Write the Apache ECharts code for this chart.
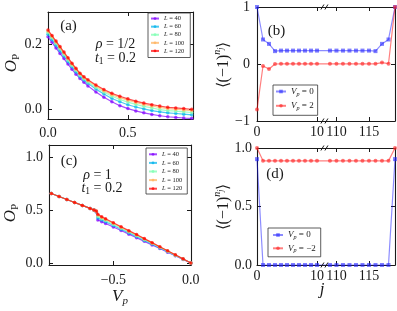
<!DOCTYPE html>
<html><head><meta charset="utf-8">
<script src="https://cdn.jsdelivr.net/npm/echarts@6/dist/echarts.min.js"></script>
<style>html,body{margin:0;padding:0;background:#fff}#c{width:397px;height:311px}</style>
</head><body><div id="c"></div>
<script>
// ---------- data ----------
// panel (a): O_P vs V_p, rho = 1/2
const aX = [0,0.025,0.05,0.075,0.1,0.125,0.15,0.175,0.2,0.225,0.25,0.3,0.35,0.4,0.45,0.5,0.55,0.6,0.65,0.7,0.75,0.8,0.85,0.9];
const aL40  = [0.222,0.205,0.188,0.171,0.155,0.138,0.122,0.107,0.094,0.082,0.071,0.052,0.036,0.022,0.010,0.001,-0.006,-0.012,-0.017,-0.021,-0.024,-0.026,-0.028,-0.029];
const aL60  = [0.230,0.213,0.196,0.179,0.163,0.146,0.130,0.114,0.100,0.089,0.079,0.061,0.046,0.032,0.022,0.013,0.006,0.000,-0.005,-0.009,-0.012,-0.014,-0.016,-0.018];
const aL80  = [0.236,0.219,0.202,0.185,0.168,0.151,0.134,0.119,0.104,0.093,0.083,0.066,0.052,0.039,0.029,0.021,0.014,0.008,0.003,-0.002,-0.005,-0.007,-0.009,-0.011];
const aL100 = [0.240,0.223,0.206,0.189,0.172,0.155,0.138,0.122,0.108,0.096,0.087,0.071,0.056,0.044,0.035,0.027,0.020,0.014,0.009,0.005,0.001,-0.001,-0.003,-0.005];
const aL120 = [0.243,0.226,0.209,0.192,0.175,0.158,0.141,0.125,0.110,0.099,0.090,0.074,0.060,0.048,0.039,0.031,0.024,0.018,0.013,0.009,0.005,0.003,0.001,-0.001];
// panel (c): O_P vs V_p, rho = 1
const cX = [-0.9,-0.85,-0.8,-0.75,-0.7,-0.65,-0.625,-0.61,-0.6,-0.575,-0.55,-0.5,-0.45,-0.4,-0.35,-0.3,-0.25,-0.2,-0.15,-0.1,-0.05,0];
const cL40  = [0.655,0.627,0.599,0.571,0.543,0.515,0.500,0.480,0.405,0.390,0.373,0.340,0.306,0.272,0.238,0.204,0.170,0.136,0.102,0.068,0.034,0.000];
const cL60  = [0.655,0.627,0.599,0.571,0.543,0.515,0.500,0.484,0.424,0.406,0.389,0.354,0.319,0.284,0.249,0.213,0.178,0.142,0.107,0.071,0.036,0.000];
const cL80  = [0.655,0.627,0.599,0.571,0.543,0.515,0.500,0.486,0.438,0.418,0.400,0.364,0.328,0.292,0.256,0.220,0.183,0.147,0.110,0.073,0.037,0.000];
const cL100 = [0.655,0.627,0.599,0.571,0.543,0.515,0.500,0.489,0.452,0.430,0.411,0.374,0.337,0.300,0.264,0.226,0.189,0.151,0.114,0.075,0.038,0.000];
const cL120 = [0.655,0.627,0.599,0.571,0.543,0.515,0.500,0.490,0.460,0.437,0.418,0.380,0.342,0.305,0.268,0.230,0.192,0.154,0.116,0.077,0.039,0.000];
const Ls = ['40','60','80','100','120'];
// panels (b),(d): <(-1)^{n_j}> vs site j (broken axis)
const J = [0,1,2,3,4,5,6,7,8,9,10,109,110,111,112,113,114,115,116,117,118,119];
const bV0  = [1.0,0.43,0.353,0.226,0.235,0.235,0.235,0.235,0.235,0.235,0.235,0.235,0.235,0.235,0.235,0.235,0.235,0.235,0.226,0.353,0.43,1.0];
const bV2  = [-0.8,-0.035,-0.088,0.0,0.003,0.003,0.003,0.003,0.003,0.003,0.003,0.003,0.003,0.003,0.003,0.003,0.003,0.003,0.003,0.025,0.005,1.0];
const dV0  = [0.905,0,0,0,0,0,0,0,0,0,0,0,0,0,0,0,0,0,0,0,0,0.905];
const dVm2 = [1.0,0.89,0.89,0.89,0.89,0.89,0.89,0.89,0.89,0.89,0.89,0.89,0.89,0.89,0.89,0.89,0.89,0.89,0.89,0.89,0.89,1.0];
const jTicks = [0,10,110,115];

// ---------- helpers ----------
const FONT = 'Liberation Serif';
const INK = '#1a1a1a';
// broken j axis: two linear pieces on one 0..22 value axis
const P_MAX = 22, J_END = 119, K_LEFT = 0.957, K_RIGHT = 1.037, BREAK_P = 10.75;
const jPos = j => (j <= 50 ? j * K_LEFT : P_MAX - (J_END - j) * K_RIGHT);
const posJ = p => Math.round(p < BREAK_P ? p / K_LEFT : J_END - (P_MAX - p) / K_RIGHT);
const minus = s => String(s).replace('-', '\u2212');

function axis(gridIndex, position, min, max, ticks, fmt, margin) {
  const o = {
    type: 'value', gridIndex, position, min, max,
    axisLine: {show: true, onZero: false, lineStyle: {color: INK, width: 1.1}},
    splitLine: {show: false},
    axisTick: {show: true, inside: true, length: 4, lineStyle: {color: INK, width: 1}, customValues: ticks},
    axisLabel: {show: false}
  };
  if (fmt) {
    o.axisLabel = {show: true, customValues: ticks, formatter: fmt, margin,
      fontFamily: FONT, fontSize: 14, color: INK, showMinLabel: true, showMaxLabel: true};
  }
  return o;
}
const f1 = v => minus(Number(v).toFixed(1));

const rainbow = ['rgba(128,0,255,0.7)','rgba(0,180,236,0.7)','rgba(128,255,180,0.75)','rgba(255,180,98,0.75)','rgba(255,0,0,0.7)'];
const blue = 'rgba(40,40,255,0.6)', blueL = 'rgba(0,0,255,0.45)';
const red = 'rgba(255,40,40,0.65)', redL = 'rgba(255,0,0,0.5)';

function lineSeries(name, xi, data, color, lcolor, symbol, size, z) {
  return {type: 'line', name, xAxisIndex: xi, yAxisIndex: xi, data, symbol, symbolSize: size,
    lineStyle: {width: 1.2, color: lcolor}, itemStyle: {color}, z, animation: false, clip: true};
}

const series = [];
[aL40, aL60, aL80, aL100, aL120].forEach((arr, k) =>
  series.push(lineSeries('a|' + Ls[k], 0, aX.map((x, i) => [x, arr[i]]), rainbow[k], rainbow[k], 'circle', 3.5, 2 + k)));
[cL40, cL60, cL80, cL100, cL120].forEach((arr, k) =>
  series.push(lineSeries('c|' + Ls[k], 2, cX.map((x, i) => [x, arr[i]]), rainbow[k], rainbow[k], 'circle', 3.5, 2 + k)));
series.push(lineSeries('b|0', 1, J.map((j, i) => [jPos(j), bV0[i]]), blue, blueL, 'rect', 4, 3));
series.push(lineSeries('b|2', 1, J.map((j, i) => [jPos(j), bV2[i]]), red, redL, 'circle', 4, 4));
series.push(lineSeries('d|0', 3, J.map((j, i) => [jPos(j), dV0[i]]), blue, blueL, 'rect', 4, 3));
series.push(lineSeries('d|-2', 3, J.map((j, i) => [jPos(j), dVm2[i]]), red, redL, 'circle', 4, 4));

const grids = [
  {left: 48, top: 12, width: 145, height: 107},   // a
  {left: 257, top: 6, width: 138, height: 115},   // b
  {left: 49, top: 145, width: 142, height: 120},  // c
  {left: 257, top: 148, width: 138, height: 117}  // d
];
const jTickPos = jTicks.map(jPos);
const jFmt = p => String(posJ(p));
const xAxes = [
  axis(0, 'bottom', 0, 0.908, [0, 0.5], f1, 7),
  axis(1, 'bottom', 0, P_MAX, jTickPos, jFmt, 4),
  axis(2, 'bottom', -0.915, 0.001, [-0.5, 0], f1, 8),
  axis(3, 'bottom', 0, P_MAX, jTickPos, jFmt, 4),
  axis(0, 'top', 0, 0.908, [0, 0.5]),
  axis(1, 'top', 0, P_MAX, jTickPos),
  axis(2, 'top', -0.915, 0.001, [-0.5, 0]),
  axis(3, 'top', 0, P_MAX, jTickPos)
];
const yAxes = [
  axis(0, 'left', -0.031, 0.2985, [0, 0.2], f1, 6),
  axis(1, 'left', -1, 1, [-1, 0, 1], v => minus(v), 7),
  axis(2, 'left', -0.019, 1.113, [0, 0.5, 1], f1, 6),
  axis(3, 'left', 0, 1, [0, 0.5, 1], f1, 5),
  axis(0, 'right', -0.031, 0.2985, [0, 0.2]),
  axis(1, 'right', -1, 1, [-1, 0, 1]),
  axis(2, 'right', -0.019, 1.113, [0, 0.5, 1]),
  axis(3, 'right', 0, 1, [0, 0.5, 1])
];

function legendFmt(name) {
  const [p, v] = name.split('|');
  if (p === 'a' || p === 'c') return '{i|L} = ' + v;
  return '{i|V}{s|p} = ' + minus(v);
}
function legend(names, left, top, fs, lh, iw, ih, gap, pad) {
  return {
    data: names, left, top, orient: 'vertical', itemWidth: iw, itemHeight: ih, itemGap: gap,
    padding: pad, backgroundColor: '#fff', borderColor: '#333', borderWidth: 0.8, borderRadius: 0,
    formatter: legendFmt, selectedMode: false,
    textStyle: {fontFamily: FONT, fontSize: fs, lineHeight: lh, color: INK,
      rich: {i: {fontFamily: FONT, fontStyle: 'italic', fontSize: fs, lineHeight: lh, color: INK},
             s: {fontFamily: FONT, fontStyle: 'italic', fontSize: fs * 0.68, lineHeight: fs * 0.68, verticalAlign: 'bottom', color: INK}}}
  };
}
const legends = [
  legend(Ls.map(l => 'a|' + l), 148, 13, 6.5, 8.1, 8, 3.5, 0, [1.5, 6, 2.5, 2]),
  legend(['b|0', 'b|2'], 273, 85, 9, 11, 10, 4.5, 3.3, [1, 4, 4, 2]),
  legend(Ls.map(l => 'c|' + l), 146, 148, 6.5, 8.6, 8, 3.5, 0, [2, 5, 1, 2]),
  legend(['d|0', 'd|-2'], 268, 228, 9, 11, 10, 4.5, 2.3, [1.5, 5, 3, 4])
];

const chart = echarts.init(document.getElementById('c'), null, {renderer: 'canvas'});
chart.setOption({animation: false, backgroundColor: '#fff', textStyle: {fontFamily: FONT},
  grid: grids, xAxis: xAxes, yAxis: yAxes, legend: legends, series});

// ---------- texts and break marks ----------
function txt(x, y, text, size, rich, rot) {
  return {type: 'text', x, y, rotation: rot || 0, z: 50,
    style: {text, font: size + 'px ' + FONT, fontSize: size, fontFamily: FONT, fill: INK,
      align: 'center', verticalAlign: 'middle', textAlign: 'center', textVerticalAlign: 'middle', rich: rich || {}}};
}
const mathRich = {
  i: {fontFamily: FONT, fontStyle: 'italic', fontSize: 14, lineHeight: 16, fill: INK, color: INK},
  s: {fontFamily: FONT, fontSize: 9.5, lineHeight: 9.5, verticalAlign: 'bottom', fill: INK, color: INK},
  n: {fontFamily: FONT, fontSize: 14, lineHeight: 16, fill: INK, color: INK}
};
const opRich = {
  o: {fontFamily: FONT, fontStyle: 'italic', fontSize: 17, lineHeight: 20, fill: INK, color: INK},
  p: {fontFamily: FONT, fontSize: 11, lineHeight: 11, verticalAlign: 'bottom', fill: INK, color: INK}
};
const vpRich = {
  o: {fontFamily: FONT, fontStyle: 'italic', fontSize: 17, lineHeight: 20, fill: INK, color: INK},
  p: {fontFamily: FONT, fontStyle: 'italic', fontSize: 11, lineHeight: 11, verticalAlign: 'bottom', fill: INK, color: INK}
};
const nRich = {
  m: {fontFamily: FONT, fontSize: 16, lineHeight: 22, fill: INK, color: INK},
  sup: {fontFamily: FONT, fontStyle: 'italic', fontSize: 10, lineHeight: 10, verticalAlign: 'top', fill: INK, color: INK},
  sj: {fontFamily: FONT, fontStyle: 'italic', fontSize: 7.5, lineHeight: 7.5, verticalAlign: 'top', padding: [5, 0, 0, 0], fill: INK, color: INK}
};
const nLabel = '{m|\u27E8(\u22121)}{sup|n}{sj|j}{m|\u27E9}';
const g = [
  txt(68.5, 26, '(a)', 15),
  txt(115.5, 44, '{i|\u03C1} = 1/2', 14, mathRich),
  txt(115.5, 58, '{i|t}{s|1} = 0.2', 14, mathRich),
  txt(276.5, 31, '(b)', 15),
  txt(69, 161.5, '(c)', 15),
  txt(97.5, 175, '{i|\u03C1} = 1', 14, mathRich),
  txt(102, 188, '{i|t}{s|1} = 0.2', 14, mathRich),
  txt(275, 174, '(d)', 15),
  txt(12, 63, '{o|O}{p|P}', 17, opRich, Math.PI / 2),
  txt(11, 213, '{o|O}{p|P}', 17, opRich, Math.PI / 2),
  txt(223.5, 65, nLabel, 16, nRich, Math.PI / 2),
  txt(223.5, 207, nLabel, 16, nRich, Math.PI / 2),
  txt(120, 297, '{o|V}{p|p}', 17, vpRich),
  txt(322, 290, '{o|j}', 17, vpRich)
];
[[1, -1, 1], [3, 0, 1]].forEach(([gi, ymin, ymax]) => {
  [ymin, ymax].forEach(yv => {
    const pt = chart.convertToPixel({gridIndex: gi}, [BREAK_P, yv]);
    [-2, 2].forEach(dx => g.push({type: 'line', z: 60,
      shape: {x1: pt[0] + dx - 1.5, y1: pt[1] + 2.5, x2: pt[0] + dx + 1.5, y2: pt[1] - 2.5},
      style: {stroke: INK, lineWidth: 1}}));
  });
});
chart.setOption({graphic: g});
</script>
</body></html>
